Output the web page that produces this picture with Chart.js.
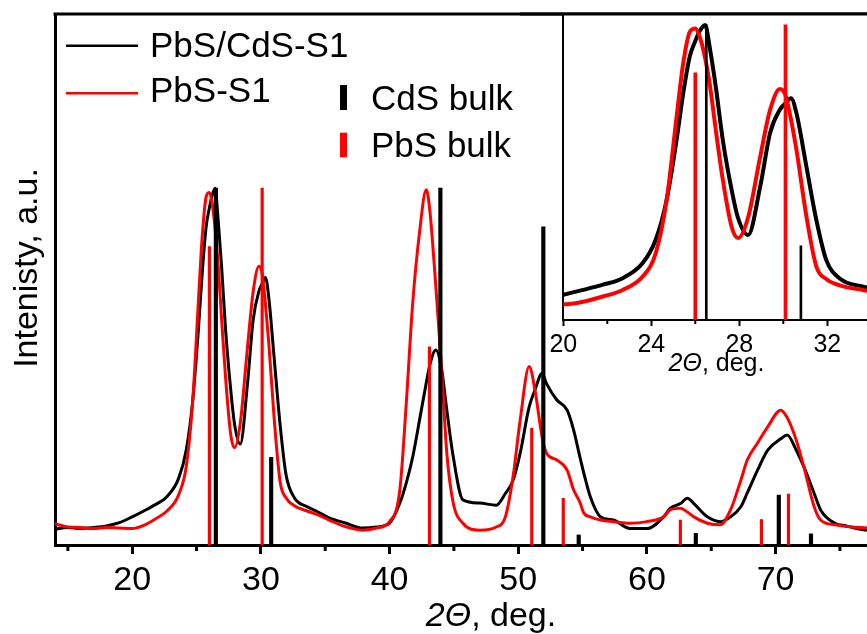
<!DOCTYPE html>
<html>
<head>
<meta charset="utf-8">
<script src="https://cdn.jsdelivr.net/npm/chart.js@4.4.1/dist/chart.umd.min.js"></script>
<style>
	html, body { margin: 0; padding: 0; background: #fff; overflow: hidden; }
	#wrap { position: relative; width: 867px; height: 634px; overflow: hidden; }
	#main { position: absolute; left: 0; top: 0; }
	#inset { position: absolute; left: 520px; top: 0; }
</style>
</head>
<body>
<div id="wrap">
	<canvas id="main" width="930" height="634"></canvas>
	<canvas id="inset" width="352" height="390"></canvas>
</div>
<script>
// 2-theta grid (deg.) shared by both measured patterns
const angles = [14, 15, 16, 17, 18, 19, 20, 20.9, 21.8, 22.7, 23.6, 24.2, 24.7, 25.15, 25.45, 25.75, 26.0, 26.2, 26.45, 26.65,
	26.95, 27.25, 27.65, 27.95, 28.4, 28.95, 29.4, 29.85, 30.1, 30.35, 30.6, 31.05, 31.5, 31.95, 32.6, 33.6, 34.3, 35.3, 36.5, 37.9,
	39, 40, 40.8, 41.3, 41.8, 42.35, 42.85, 43.1, 43.6, 44.05, 44.45, 44.95, 45.7, 47, 48.3, 49, 49.6, 50.15, 50.85, 51.3,
	51.85, 52.2, 53, 53.8, 54.3, 54.8, 55.1, 55.6, 56.4, 57.4, 58.7, 60, 61.3, 61.8, 62.6, 63.15, 63.65, 64.7, 65.7, 66.5,
	67.3, 67.8, 68.6, 69.4, 70.4, 70.9, 71.6, 72.2, 73, 73.5, 74.6, 75.5, 77.2, 78.5];
// PbS/CdS-S1 (black)
const pbsCdsS1 = [3.0, 3.3, 3.1, 3.3, 3.6, 4.2, 5.3, 6.4, 7.6, 9.1, 12.5, 17.9, 27.1, 40.8, 51.5, 60.0, 63.5, 65.8, 67.2, 62.2,
	52.3, 40.8, 29.4, 22.8, 19.0, 30.1, 42.4, 47.8, 49.2, 50.4, 46.9, 34.7, 22.5, 13.3, 8.9, 7.2, 6.4, 5.1, 4.2, 3.2,
	3.4, 4.1, 7.9, 11.7, 16.6, 23.8, 30.5, 33.6, 36.7, 33.0, 25.4, 16.6, 8.5, 7.9, 7.5, 9.7, 12.2, 17.3, 26.0, 29.2,
	32.3, 30.4, 27.3, 25.4, 21.7, 16.5, 13.5, 9.1, 5.3, 4.7, 3.1, 3.1, 5.3, 6.9, 7.8, 8.8, 7.8, 5.3, 4.4, 5.3,
	7.2, 9.8, 14.1, 17.9, 20.0, 20.7, 17.9, 14.7, 9.7, 6.6, 4.1, 3.6, 2.8, 2.8];
// PbS-S1 (red)
const pbsS1 = [4.0, 3.4, 3.3, 3.1, 3.3, 3.2, 3.1, 3.7, 4.9, 6.4, 9.4, 14.8, 27.1, 46.1, 58.4, 65.6, 66.4, 64.5, 59.5, 53.8,
	42.4, 31.7, 20.9, 18.3, 23.0, 37.0, 47.7, 52.5, 51.1, 45.5, 38.5, 23.3, 11.8, 8.9, 7.4, 6.4, 5.8, 4.7, 3.5, 2.8,
	3.2, 4.4, 10.4, 26.7, 45.6, 59.3, 66.9, 63.7, 48.6, 33.0, 17.3, 7.9, 4.1, 2.8, 3.4, 5.3, 12.9, 23.5, 33.6, 29.2,
	20.4, 17.3, 16.0, 14.1, 10.4, 8.0, 6.0, 5.3, 4.7, 4.4, 4.1, 4.4, 5.3, 6.6, 6.9, 6.2, 5.3, 4.1, 3.8, 6.6,
	12.2, 16.0, 19.2, 22.3, 25.4, 24.0, 19.8, 14.7, 7.2, 4.7, 3.8, 3.5, 3.2, 3.2];
// reference bulk patterns
const cdsAngles = [26.5, 30.8, 43.95, 51.95, 54.7, 63.8, 70.25, 72.75];
const cdsHeights = [67.2, 16.5, 67.2, 59.9, 1.9, 2.2, 9.4, 2.1];
const pbsAngles = [26.0, 30.1, 43.1, 51.05, 53.5, 62.6, 68.9, 71.0];
const pbsHeights = [56.2, 67.2, 37.3, 22.0, 8.8, 4.7, 4.8, 9.6];
// axes
const mainTicks = [20, 30, 40, 50, 60, 70, 80];
const mainMinor = [15, 25, 35, 45, 55, 65, 75];
const insetTicks = [20, 24, 28, 32];
const insetMinor = [22, 26, 30, 34];
const seriesNames = ['PbS/CdS-S1', 'PbS-S1'];
const bulkNames = ['CdS bulk', 'PbS bulk'];
const yTitle = 'Intenisty, a.u.';

const FONT = "'Liberation Sans', Arial, sans-serif";
const RED = '#ff0000';
Chart.defaults.font.family = FONT;
Chart.defaults.color = '#000';

var pairs = function (xs, ys) {
	return xs.map((a, i) => ({x: a, y: ys[i]}));
};

var makeSets = function (w) {
	return [{
		type: 'bar', label: bulkNames[0], data: pairs(cdsAngles, cdsHeights),
		backgroundColor: '#000', barThickness: w.cds, grouped: false, base: w.base, order: 0
	}, {
		type: 'bar', label: bulkNames[1], data: pairs(pbsAngles, pbsHeights),
		backgroundColor: RED, barThickness: w.pbs, grouped: false, base: w.base, order: 1
	}, {
		type: 'line', label: seriesNames[1], data: pairs(angles, pbsS1),
		borderColor: RED, borderWidth: w.line, pointRadius: 0, cubicInterpolationMode: 'monotone', clip: 0, order: 2
	}, {
		type: 'line', label: seriesNames[0], data: pairs(angles, pbsCdsS1),
		borderColor: '#000', borderWidth: w.line, pointRadius: 0, cubicInterpolationMode: 'monotone', clip: 0, order: 3
	}];
};

// "2Θ, deg." with the italic symbol part
var drawThetaTitle = function (ctx, cx, baseline, size) {
	ctx.save();
	ctx.fillStyle = '#000';
	ctx.textBaseline = 'alphabetic';
	ctx.textAlign = 'left';
	ctx.font = 'italic ' + size + 'px ' + FONT;
	let w1 = ctx.measureText('2\u0398').width;
	ctx.font = size + 'px ' + FONT;
	let w2 = ctx.measureText(', deg.').width;
	let x0 = cx - (w1 + w2) / 2;
	ctx.font = 'italic ' + size + 'px ' + FONT;
	ctx.fillText('2\u0398', x0, baseline);
	ctx.font = size + 'px ' + FONT;
	ctx.fillText(', deg.', x0 + w1, baseline);
	ctx.restore();
};

var minorTicks = function (ctx, chart, values, len, width) {
	const a = chart.chartArea, x = chart.scales.x;
	ctx.save();
	ctx.strokeStyle = '#000';
	ctx.lineWidth = width;
	ctx.beginPath();
	values.forEach(v => {
		let px = x.getPixelForValue(v);
		ctx.moveTo(px, a.bottom);
		ctx.lineTo(px, a.bottom + len);
	});
	ctx.stroke();
	ctx.restore();
};

const mainDecor = {
	id: 'mainDecor',
	afterDraw(chart) {
		const ctx = chart.ctx, a = chart.chartArea;
		minorTicks(ctx, chart, mainMinor, 6, 3);
		ctx.save();
		// top frame line
		ctx.strokeStyle = '#000';
		ctx.lineWidth = 3;
		ctx.beginPath();
		ctx.moveTo(a.left - 1.5, a.top);
		ctx.lineTo(a.right, a.top);
		ctx.stroke();
		// legend
		ctx.font = '35px ' + FONT;
		ctx.fillStyle = '#000';
		ctx.textBaseline = 'alphabetic';
		ctx.lineWidth = 2.5;
		ctx.beginPath();
		ctx.moveTo(66, 45.7);
		ctx.lineTo(138, 45.7);
		ctx.stroke();
		ctx.fillText(seriesNames[0], 150, 56.7);
		ctx.strokeStyle = RED;
		ctx.beginPath();
		ctx.moveTo(66, 93.3);
		ctx.lineTo(138, 93.3);
		ctx.stroke();
		ctx.fillText(seriesNames[1], 150, 101.7);
		ctx.fillRect(340, 85, 7, 25);
		ctx.fillText(bulkNames[0], 371, 110);
		ctx.fillStyle = RED;
		ctx.fillRect(340, 132.7, 7, 24.6);
		ctx.fillStyle = '#000';
		ctx.fillText(bulkNames[1], 371, 157.3);
		// y title
		ctx.translate(36.7, 268);
		ctx.rotate(-Math.PI / 2);
		ctx.font = '34px ' + FONT;
		ctx.textAlign = 'center';
		ctx.fillText(yTitle, 0, 0);
		ctx.restore();
		drawThetaTitle(ctx, 491, 626, 34);
	}
};

const insetDecor = {
	id: 'insetDecor',
	beforeDraw(chart) {
		const ctx = chart.ctx, a = chart.chartArea;
		ctx.save();
		ctx.fillStyle = '#fff';
		ctx.fillRect(a.left, a.top, a.right - a.left, a.bottom - a.top);
		ctx.restore();
	},
	afterDraw(chart) {
		const ctx = chart.ctx, a = chart.chartArea;
		minorTicks(ctx, chart, insetMinor, 4, 2);
		ctx.save();
		ctx.strokeStyle = '#000';
		ctx.lineWidth = 3;
		ctx.beginPath();
		ctx.moveTo(0, a.top);
		ctx.lineTo(chart.width, a.top);
		ctx.stroke();
		ctx.restore();
		drawThetaTitle(ctx, 196.5, 370.7, 25);
	}
};

var baseOptions = function (o) {
	return {
		responsive: false,
		animation: false,
		events: [],
		layout: {padding: o.padding},
		plugins: {legend: {display: false}, tooltip: {enabled: false}},
		scales: {
			x: {
				type: 'linear', min: o.xMin, max: o.xMax, offset: false,
				afterBuildTicks: s => { s.ticks = o.ticks.map(v => ({value: v})); },
				afterFit: s => { s.height = o.xHeight; },
				ticks: {font: {size: o.tickFont}, padding: o.tickPad, maxRotation: 0, autoSkip: false, color: '#000'},
				grid: {drawOnChartArea: false, drawTicks: true, offset: false, tickLength: o.tickLen, tickWidth: o.axisW, tickColor: '#000', color: '#000'},
				border: {display: true, width: o.axisW, color: '#000'}
			},
			y: {
				type: 'linear', min: o.yMin, max: o.yMax,
				afterFit: s => { s.width = o.yWidth; },
				ticks: {display: false},
				grid: {display: false},
				border: {display: true, width: o.axisW, color: '#000'}
			}
		}
	};
};

new Chart(document.getElementById('main'), {
	type: 'line',
	data: {datasets: makeSets({cds: 3.5, pbs: 2.5, line: 3, base: 0})},
	options: baseOptions({
		padding: {top: 14, left: 0, right: 0, bottom: 0},
		xMin: 14, xMax: 82, yMin: 0, yMax: 100,
		ticks: mainTicks, tickFont: 34, tickPad: 6, tickLen: 9, axisW: 3,
		xHeight: 89, yWidth: 55
	}),
	plugins: [mainDecor]
});

new Chart(document.getElementById('inset'), {
	type: 'line',
	data: {datasets: makeSets({cds: 2, pbs: 3, line: 4, base: -0.5})},
	options: baseOptions({
		padding: {top: 14, left: 43.3, right: 0.7, bottom: 0},
		xMin: 20, xMax: 34, yMin: -0.5, yMax: 69.7,
		ticks: insetTicks, tickFont: 25, tickPad: 4, tickLen: 6, axisW: 2,
		xHeight: 70, yWidth: 0
	}),
	plugins: [insetDecor]
});
</script>
</body>
</html>
